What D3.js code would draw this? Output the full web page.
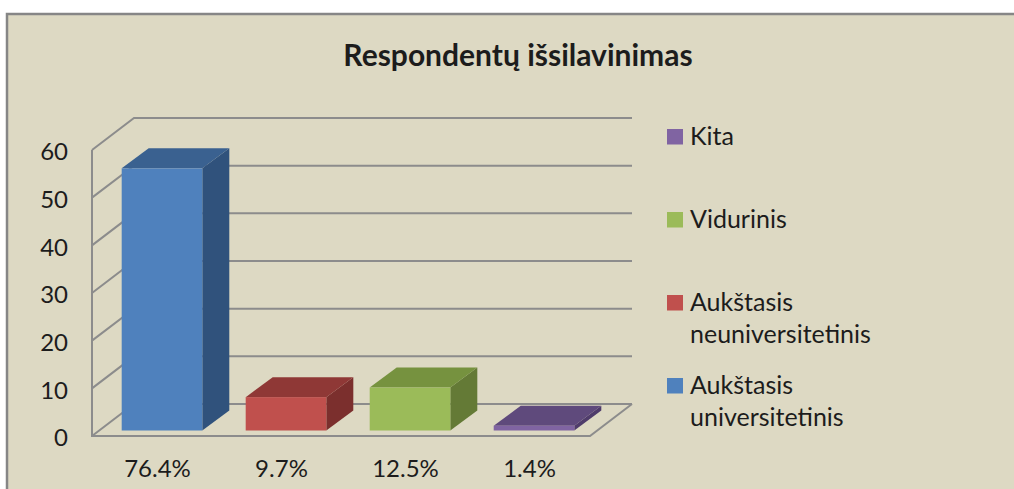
<!DOCTYPE html>
<html>
<head>
<meta charset="utf-8">
<script src="https://cdn.jsdelivr.net/npm/d3@7"></script>
<style>
  html, body { margin: 0; padding: 0; background: #fff; overflow: hidden; }
  svg { display: block; }
  text { font-family: Lato, "Noto Sans", sans-serif; fill: #1c1c1c; }
</style>
</head>
<body>
<div id="chart"></div>
<script>
const title = "Respondentų išsilavinimas";
const categories = ["Aukštasis universitetinis", "Aukštasis neuniversitetinis", "Vidurinis", "Kita"];
const values = [55, 7, 9, 1];
const percentLabels = ["76.4%", "9.7%", "12.5%", "1.4%"];
const yTicks = [0, 10, 20, 30, 40, 50, 60];
const frontColors = ["#4f81bd", "#c0504d", "#9bbb59", "#8064a2"];
const sideColors = ["#30527c", "#7b2f2d", "#647a36", "#4f3c6b"];
const topColors = ["#3a6190", "#8f3836", "#76923f", "#5f4a7c"];
const legendLines = [
    ["Kita"],
    ["Vidurinis"],
    ["Aukštasis", "neuniversitetinis"],
    ["Aukštasis", "universitetinis"]
];
const legendColors = ["#8064a2", "#9bbb59", "#c0504d", "#4f81bd"];

const width = 1014;
const height = 489;

// front plane of the 3d box, and how far back the wall sits
const plot = { left: 92, right: 590, top: 150, bottom: 436 };
const wall = { dx: 42, dy: -32 };
// bars stand a little way in from the front edge
const inset = { dx: 7, dy: -5.5 };
const depth = { dx: 27, dy: -20 };

const svg = d3.select("#chart")
    .append("svg")
    .attr("width", width)
    .attr("height", height);

// Background panel, the border only shows on top and left
svg.append("rect")
    .attr("x", 6).attr("y", 13)
    .attr("width", width).attr("height", height)
    .attr("fill", "#ddd9c3")
    .attr("stroke", "none");
svg.append("path")
    .attr("d", `M7,${height}V14H${width}`)
    .attr("fill", "none")
    .attr("stroke", "#868686")
    .attr("stroke-width", 2.5);

svg.append("text")
    .attr("x", 518)
    .attr("y", 66)
    .attr("text-anchor", "middle")
    .attr("font-size", 30)
    .attr("font-weight", 700)
    .text(title);

// Scales
const y = d3.scaleLinear()
    .domain([0, 60])
    .range([plot.bottom, plot.top]);

const x = d3.scaleBand()
    .domain(categories)
    .range([plot.left, plot.right])
    .paddingInner(0.35)
    .paddingOuter(0.183);

// Gridlines on the side wall and the back wall
const grid = svg.append("g")
    .attr("fill", "none")
    .attr("stroke", "#8c8c8c")
    .attr("stroke-width", 2);

grid.selectAll("path.tick")
    .data(yTicks)
    .enter()
    .append("path")
    .attr("class", "tick")
    .attr("d", d => `M${plot.left},${y(d)}l${wall.dx},${wall.dy}H${plot.right + wall.dx}`);

// Left edge, floor front edge and floor right edge
grid.append("path")
    .attr("d", `M${plot.left},${plot.top}V${plot.bottom}H${plot.right}l${wall.dx},${wall.dy}`);

// ----- Axes -----
const gY = svg.append("g")
    .attr("transform", `translate(${plot.left}, 2)`)
    .call(d3.axisLeft(y).tickValues(yTicks).tickSize(0).tickPadding(24));
gY.select(".domain").remove();
gY.selectAll("text").attr("font-size", 24).attr("dy", "0.32em");

const gX = svg.append("g")
    .attr("transform", `translate(2.5, ${plot.bottom})`)
    .call(d3.axisBottom(x).tickSize(0).tickPadding(24)
        .tickFormat((d, i) => percentLabels[i]));
gX.select(".domain").remove();
gX.selectAll("text").attr("font-size", 24).attr("dy", "0.71em");

// ----- 3d bars -----
const bars = svg.append("g")
    .selectAll("g")
    .data(categories)
    .enter()
    .append("g")
    .attr("transform", `translate(${inset.dx}, ${inset.dy})`);

bars.append("path")
    .attr("fill", (d, i) => sideColors[i])
    .attr("d", (d, i) => {
        const x1 = x(d) + x.bandwidth();
        return `M${x1},${y(values[i])}l${depth.dx},${depth.dy}V${y(0) + depth.dy}l${-depth.dx},${-depth.dy}Z`;
    });

bars.append("path")
    .attr("fill", (d, i) => topColors[i])
    .attr("d", (d, i) =>
        `M${x(d)},${y(values[i])}l${depth.dx},${depth.dy}h${x.bandwidth()}l${-depth.dx},${-depth.dy}Z`);

bars.append("rect")
    .attr("x", d => x(d))
    .attr("y", (d, i) => y(values[i]))
    .attr("width", x.bandwidth())
    .attr("height", (d, i) => y(0) - y(values[i]))
    .attr("fill", (d, i) => frontColors[i]);

// ----- Legend -----
const legend = svg.append("g")
    .selectAll("g")
    .data(legendLines)
    .enter()
    .append("g")
    .attr("transform", (d, i) => `translate(667, ${129 + i * 83})`);

legend.append("rect")
    .attr("width", 16)
    .attr("height", 15.5)
    .attr("fill", (d, i) => legendColors[i]);

legend.selectAll("text")
    .data(d => d)
    .enter()
    .append("text")
    .attr("x", 23)
    .attr("y", (d, i) => 16 + i * 32)
    .attr("font-size", 25)
    .text(d => d);
</script>
</body>
</html>
